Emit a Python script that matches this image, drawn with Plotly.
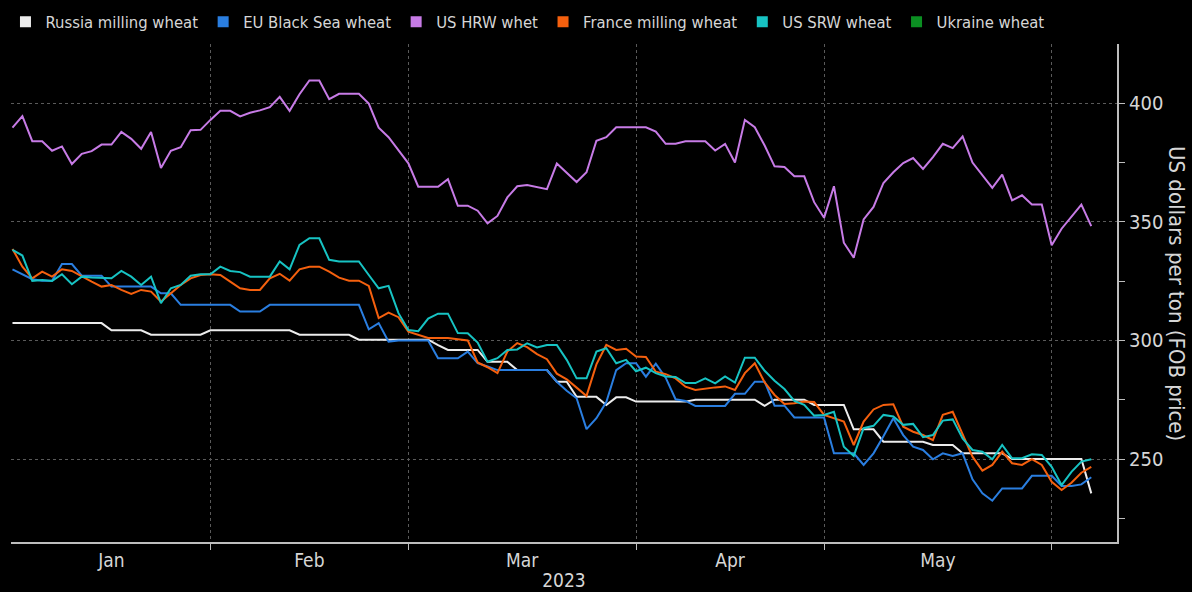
import pandas as pd
import plotly.graph_objects as go

# ---- categories: trading days shown on the chart ----
dates = [d for d in pd.bdate_range("2023-01-04", "2023-06-07") if d != pd.Timestamp("2023-04-07")]
month_labels = ["Jan", "Feb", "Mar", "Apr", "May"]
year_label = "2023"

# ---- series values (US dollars per ton, FOB) ----
russia_milling = [
    307.3, 307.3, 307.3, 307.3, 307.3, 307.3, 307.3, 307.3, 307.3, 307.3,
    304.3, 304.3, 304.3, 304.3, 302.4, 302.4, 302.4, 302.4, 302.4, 302.4,
    304.3, 304.3, 304.3, 304.3, 304.3, 304.3, 304.3, 304.3, 304.3, 302.4,
    302.4, 302.4, 302.4, 302.4, 302.4, 300.3, 300.3, 300.3, 300.3, 300.3,
    300.3, 300.3, 300.3, 298.0, 296.0, 296.0, 296.0, 296.0, 291.0, 291.0,
    291.0, 287.5, 287.5, 287.5, 287.5, 282.6, 282.6, 276.2, 276.2, 276.2,
    272.8, 276.0, 276.0, 274.2, 274.2, 274.2, 274.2, 274.2, 274.2, 275.0,
    275.0, 275.0, 275.0, 275.0, 275.0, 275.0, 272.4, 275.0, 275.0, 275.0,
    275.0, 272.8, 272.8, 272.8, 272.8, 262.5, 262.5, 262.5, 257.3, 257.3,
    257.3, 257.3, 257.3, 255.9, 255.9, 255.9, 252.4, 252.4, 252.4, 252.4,
    252.4, 250.0, 250.0, 250.0, 250.0, 250.0, 250.0, 250.0, 250.0, 235.5,
]
eu_black_sea = [
    330.0, 328.0, 325.8, 325.2, 325.2, 332.2, 332.2, 327.3, 327.3, 327.3,
    322.7, 322.7, 322.7, 322.7, 322.7, 319.9, 319.9, 315.0, 315.0, 315.0,
    315.0, 315.0, 315.0, 312.2, 312.2, 312.2, 315.0, 315.0, 315.0, 315.0,
    315.0, 315.0, 315.0, 315.0, 315.0, 315.0, 304.7, 307.3, 299.5, 300.0,
    300.0, 300.0, 300.0, 292.5, 292.5, 292.5, 295.3, 290.4, 289.0, 287.5,
    287.5, 287.5, 287.5, 287.5, 287.5, 282.6, 278.8, 275.6, 262.6, 267.2,
    274.0, 287.5, 290.4, 290.4, 284.7, 290.2, 284.3, 275.2, 274.5, 272.4,
    272.4, 272.4, 272.4, 277.5, 277.5, 282.6, 282.6, 272.5, 272.5, 267.5,
    267.5, 267.5, 267.5, 252.4, 252.4, 252.4, 247.5, 252.4, 259.6, 267.2,
    260.1, 255.2, 253.8, 249.9, 252.4, 251.3, 252.4, 241.4, 235.5, 232.4,
    237.6, 237.6, 237.6, 242.9, 242.9, 242.9, 238.6, 238.6, 239.3, 242.3,
]
us_hrw = [
    389.7, 394.6, 384.0, 384.0, 380.0, 381.8, 374.4, 378.7, 379.8, 382.6,
    382.6, 387.9, 385.0, 380.8, 387.9, 372.7, 380.0, 381.5, 388.6, 388.8,
    393.0, 396.8, 396.8, 394.5, 396.0, 397.0, 398.4, 402.7, 396.8, 403.8,
    409.6, 409.6, 401.7, 404.0, 404.0, 404.0, 399.9, 389.7, 385.7, 380.0,
    374.7, 364.8, 364.8, 364.8, 368.0, 356.8, 356.8, 354.7, 349.4, 352.5,
    360.3, 365.0, 365.5, 364.8, 363.8, 374.6, 370.9, 366.8, 370.9, 384.2,
    385.7, 389.9, 389.9, 389.9, 389.9, 388.1, 382.9, 382.9, 384.0, 384.0,
    384.0, 380.1, 382.9, 375.0, 393.0, 389.9, 382.2, 373.4, 373.1, 369.2,
    369.2, 358.3, 351.7, 365.0, 341.2, 334.9, 351.0, 356.3, 366.4, 370.9,
    374.8, 376.9, 372.3, 377.3, 382.9, 381.1, 386.0, 375.0, 369.9, 364.3,
    369.9, 359.1, 361.2, 357.3, 357.3, 340.1, 347.1, 352.1, 357.3, 348.2,
]
france_milling = [
    338.6, 331.1, 326.2, 329.0, 326.9, 330.0, 329.3, 326.9, 324.8, 322.7,
    323.4, 321.3, 319.6, 321.3, 320.6, 316.4, 319.9, 323.4, 326.2, 327.6,
    327.9, 327.6, 324.8, 322.0, 321.3, 321.3, 326.2, 328.1, 325.2, 330.0,
    331.1, 331.1, 329.0, 326.5, 325.2, 325.2, 323.0, 309.4, 311.7, 309.8,
    303.7, 302.3, 301.0, 301.0, 301.0, 300.5, 300.0, 290.7, 288.7, 286.2,
    295.3, 298.9, 297.2, 294.2, 292.1, 286.0, 283.6, 280.1, 276.6, 289.9,
    298.1, 296.0, 296.5, 293.2, 293.0, 286.8, 285.8, 284.0, 280.5, 279.1,
    279.8, 280.2, 280.6, 279.1, 286.2, 290.4, 282.3, 277.0, 273.2, 273.5,
    274.2, 274.0, 268.6, 267.2, 265.8, 255.9, 265.8, 270.9, 272.8, 273.1,
    263.6, 261.5, 260.1, 258.0, 268.6, 269.9, 260.1, 251.0, 245.1, 247.5,
    253.1, 248.2, 247.5, 249.9, 247.5, 240.4, 236.9, 240.0, 244.2, 246.7,
]
us_srw = [
    338.2, 335.8, 325.1, 325.5, 325.1, 327.9, 323.7, 326.9, 326.5, 326.5,
    326.2, 329.3, 326.9, 323.4, 326.9, 315.7, 322.0, 323.4, 327.3, 327.9,
    327.9, 331.1, 329.3, 328.8, 326.9, 326.9, 326.9, 333.3, 330.0, 340.3,
    343.1, 343.1, 334.0, 333.3, 333.3, 333.3, 327.6, 322.0, 323.0, 311.5,
    304.4, 303.9, 309.2, 311.3, 311.3, 303.1, 303.0, 299.1, 291.0, 292.5,
    296.0, 296.2, 298.8, 297.0, 298.1, 298.1, 291.8, 284.0, 284.0, 295.3,
    296.7, 290.4, 291.8, 287.0, 288.5, 286.2, 284.8, 284.6, 282.0, 282.0,
    284.0, 281.9, 284.8, 282.2, 292.7, 292.7, 287.2, 283.0, 279.5, 274.5,
    272.8, 268.3, 268.6, 269.9, 255.2, 251.3, 263.0, 264.0, 268.6, 267.9,
    264.4, 264.8, 259.2, 260.1, 266.2, 266.7, 258.7, 253.8, 253.1, 249.9,
    255.9, 250.3, 250.3, 252.0, 251.7, 246.7, 239.0, 244.6, 248.9, 249.9,
]
ukraine_wheat = []  # listed in the legend, no visible line on the chart

series_names = ["Russia milling wheat", "EU Black Sea wheat", "US HRW whet",
                "France milling wheat", "US SRW wheat", "Ukraine wheat"]
series_values = [russia_milling, eu_black_sea, us_hrw, france_milling, us_srw, ukraine_wheat]
series_colors = ["#ececec", "#2a7ee0", "#c77be6", "#f5600e", "#17c3c3", "#0b8f22"]

y_major = [250, 300, 350, 400]
y_minor = [225, 275, 325, 375]

# ---- positions derived from the dates ----
x = list(range(len(dates)))
month_starts = [i for i in x if i == 0 or dates[i].month != dates[i - 1].month]
boundaries = month_starts[1:]
mids = [(month_starts[k] + month_starts[k + 1]) / 2 for k in range(len(month_labels))]

FONT = "DejaVu Sans Condensed, DejaVu Sans, sans-serif"
TXT = "#d6d6d6"
GRID = "#5a5a5a"
AXIS = "#bdbdbd"

fig = go.Figure()
for name, vals, col in zip(series_names, series_values, series_colors):
    if len(vals):
        fig.add_trace(go.Scatter(
            x=x[:len(vals)], y=vals, mode="lines", name=name,
            line=dict(color=col, width=2), showlegend=False,
            text=[d.strftime("%Y-%m-%d") for d in dates[:len(vals)]],
            hovertemplate="%{text}: %{y:.1f}<extra>" + name + "</extra>",
        ))
for name, col in zip(series_names, series_colors):
    fig.add_trace(go.Scatter(
        x=[None], y=[None], mode="markers", name=name,
        marker=dict(symbol="square", size=11, color=col), showlegend=True,
    ))

fig.update_layout(
    width=1192, height=592,
    paper_bgcolor="#000000", plot_bgcolor="#000000",
    margin=dict(l=11, r=75, t=44, b=50, autoexpand=False),
    font=dict(family=FONT, color=TXT, size=17),
    showlegend=True,
    legend=dict(orientation="h", x=-0.005, xanchor="left", y=1.044, yanchor="middle",
                font=dict(size=16.5, color=TXT, family=FONT), bgcolor="rgba(0,0,0,0)",
                itemwidth=30, tracegroupgap=0),
    xaxis=dict(
        range=[-0.15, 111.6], showline=True, linecolor=AXIS, linewidth=2,
        tickmode="array", tickvals=mids, ticktext=month_labels, ticks="",
        showgrid=False, zeroline=False, tickfont=dict(size=19, color=TXT),
        minor=dict(tickmode="array", tickvals=boundaries, ticks="outside", ticklen=6,
                   tickcolor=AXIS, showgrid=True, gridcolor=GRID, griddash="dot", gridwidth=1),
        title=dict(text=year_label, font=dict(size=19, color=TXT), standoff=4),
    ),
    yaxis=dict(
        side="right", range=[215, 425], showline=True, linecolor=AXIS, linewidth=2,
        tickmode="array", tickvals=y_major, ticks="outside", ticklen=6, tickcolor=AXIS,
        showgrid=True, gridcolor=GRID, griddash="dot", gridwidth=1, zeroline=False,
        tickfont=dict(size=20, color=TXT),
        minor=dict(tickmode="array", tickvals=y_minor, ticks="outside", ticklen=6,
                   tickcolor=AXIS, showgrid=False),
    ),
    annotations=[dict(
        text="US dollars per ton (FOB price)", xref="paper", yref="paper",
        x=1, y=0.5, xanchor="center", yanchor="middle", xshift=60, textangle=90,
        showarrow=False, font=dict(size=22, color=TXT, family=FONT),
    )],
)

fig.write_html(
    "out.html",
    config={"displayModeBar": False},
    post_script="document.body.style.margin='0px';document.body.style.background='#000';",
)
